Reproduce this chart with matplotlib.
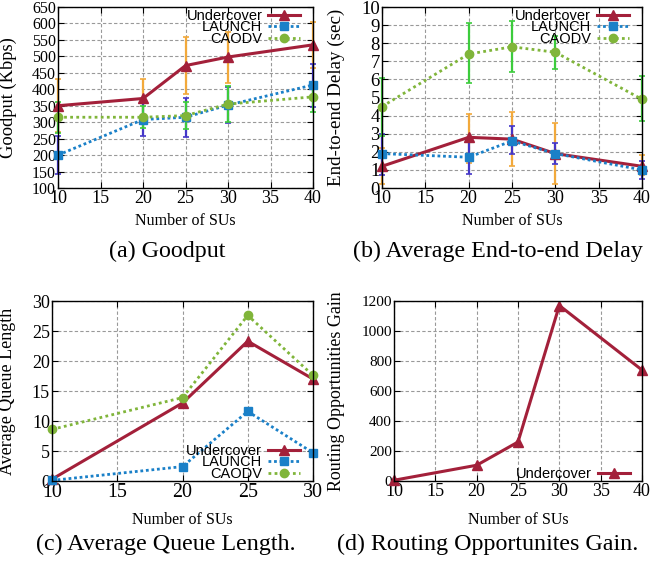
import matplotlib
matplotlib.use("Agg")
from matplotlib import pyplot as plt

plt.rcParams.update({
    "font.family": "Liberation Serif",
    "axes.linewidth": 1.0,
})

# data
sus = [10, 20, 25, 30, 40]
sus_queue = [10, 20, 25, 30]

goodput_undercover = [350, 372, 472, 498, 535]
goodput_undercover_lo = [270, 315, 385, 420, 465]
goodput_undercover_hi = [430, 432, 560, 575, 605]
goodput_launch = [200, 308, 315, 352, 413]
goodput_launch_lo = [143, 258, 255, 297, 345]
goodput_launch_hi = [257, 362, 372, 408, 478]
goodput_caodv = [315, 315, 320, 355, 377]
goodput_caodv_lo = [268, 283, 280, 300, 332]
goodput_caodv_hi = [360, 350, 362, 410, 420]

delay_undercover = [1.2, 2.8, 2.7, 1.9, 1.2]
delay_undercover_lo = [0.2, 1.4, 1.2, 0.2, 0.7]
delay_undercover_hi = [2.2, 4.1, 4.2, 3.6, 1.8]
delay_launch = [1.9, 1.7, 2.6, 1.9, 1.0]
delay_launch_lo = [0.7, 0.8, 1.9, 1.3, 0.5]
delay_launch_hi = [3.0, 2.6, 3.4, 2.5, 1.5]
delay_caodv = [4.5, 7.4, 7.8, 7.5, 4.9]
delay_caodv_lo = [2.9, 5.8, 6.4, 6.6, 3.7]
delay_caodv_hi = [6.1, 9.1, 9.2, 8.4, 6.2]

queue_undercover = [0.3, 13.0, 23.3, 17.0]
queue_launch = [0.1, 2.4, 11.6, 4.7]
queue_caodv = [8.6, 13.9, 27.6, 17.6]

gain_undercover = [5, 105, 260, 1170, 740]

captions = ["(a) Goodput", "(b) Average End-to-end Delay",
            "(c) Average Queue Length.", "(d) Routing Opportunites Gain."]

RED = "#a3203a"
BLUE = "#1a80c8"
GREEN = "#80b53a"
ERR_RED = "#f2a93b"
ERR_BLUE = "#4436c8"
ERR_GREEN = "#3ccc3c"

styles = {
    "Undercover": dict(color=RED, lw=2.2, ls="-", marker="^", ms=7),
    "LAUNCH": dict(color=BLUE, lw=2.0, ls=(0, (1, 1)), marker="s", ms=6),
    "CAODV": dict(color=GREEN, lw=2.0, ls=(0, (1, 1.2)), marker="o", ms=6),
}


def style_axes(ax, xticks, yticks, xsize, ysize):
    ax.set_xlim(xticks[0], xticks[-1])
    ax.set_ylim(yticks[0], yticks[-1])
    ax.set_xticks(xticks)
    ax.set_yticks(yticks)
    ax.grid(True, color="#999999", lw=0.8, ls=(0, (3, 2)))
    ax.set_axisbelow(True)
    ax.tick_params(axis="both", direction="in", length=4, width=0.8,
                   top=True, right=True)
    ax.tick_params(axis="x", labelsize=xsize, pad=1.5)
    ax.tick_params(axis="y", labelsize=ysize, pad=1.5)
    for s in ax.spines.values():
        s.set_zorder(5)


def draw(ax, x, series, errs=None):
    for name, y in series.items():
        st = styles[name]
        if errs is not None and name in errs:
            lo, hi, ec = errs[name]
            yerr = [[v - l for v, l in zip(y, lo)], [h - v for v, h in zip(y, hi)]]
            ax.errorbar(x, y, yerr=yerr, fmt="none", ecolor=ec, elinewidth=1.6,
                        capsize=2, capthick=1.2, zorder=2, clip_on=False)
        ax.plot(x, y, color=st["color"], lw=st["lw"], ls=st["ls"],
                marker=st["marker"], ms=st["ms"], mfc=st["color"], mec=st["color"],
                label=name, zorder=3, clip_on=False)


def legend(ax, loc, anchor):
    leg = ax.legend(loc=loc, bbox_to_anchor=anchor, frameon=False,
                    markerfirst=False, alignment="right",
                    prop={"family": "Liberation Sans", "size": 10.5},
                    labelspacing=-0.16, handlelength=2.2, handletextpad=0.4,
                    borderpad=0.0, borderaxespad=0.0)
    leg.set_zorder(6)


fig = plt.figure(figsize=(6.54, 5.61), dpi=100)
W, H = 654.0, 561.0


def add_axes(l, r, t, b):
    return fig.add_axes([l / W, 1 - b / H, (r - l) / W, (b - t) / H])


ax_a = add_axes(58, 313, 7, 188)
ax_b = add_axes(382, 642, 7, 188)
ax_c = add_axes(52, 313, 301, 481)
ax_d = add_axes(394, 642, 301, 481)

# (a) goodput
style_axes(ax_a, [10, 15, 20, 25, 30, 35, 40], list(range(100, 651, 50)), 13, 11.5)
draw(ax_a, sus,
     {"Undercover": goodput_undercover, "LAUNCH": goodput_launch, "CAODV": goodput_caodv},
     {"Undercover": (goodput_undercover_lo, goodput_undercover_hi, ERR_RED),
      "LAUNCH": (goodput_launch_lo, goodput_launch_hi, ERR_BLUE),
      "CAODV": (goodput_caodv_lo, goodput_caodv_hi, ERR_GREEN)})
ax_a.set_ylabel("Goodput (Kbps)", fontsize=13.3)
ax_a.yaxis.set_label_coords(-0.16, 0.5)
legend(ax_a, "upper right", (0.95, 0.99))

# (b) delay
style_axes(ax_b, [10, 15, 20, 25, 30, 35, 40], list(range(0, 11)), 13, 13.5)
draw(ax_b, sus,
     {"Undercover": delay_undercover, "LAUNCH": delay_launch, "CAODV": delay_caodv},
     {"Undercover": (delay_undercover_lo, delay_undercover_hi, ERR_RED),
      "LAUNCH": (delay_launch_lo, delay_launch_hi, ERR_BLUE),
      "CAODV": (delay_caodv_lo, delay_caodv_hi, ERR_GREEN)})
ax_b.set_ylabel("End-to-end Delay (sec)", fontsize=13.7)
ax_b.yaxis.set_label_coords(-0.142, 0.5)
legend(ax_b, "upper right", (0.95, 0.99))

# (c) queue length
style_axes(ax_c, [10, 15, 20, 25, 30], list(range(0, 31, 5)), 14.4, 13)
draw(ax_c, sus_queue,
     {"Undercover": queue_undercover, "LAUNCH": queue_launch, "CAODV": queue_caodv})
ax_c.set_ylabel("Average Queue Length", fontsize=13)
ax_c.yaxis.set_label_coords(-0.138, 0.5)
legend(ax_c, "lower right", (0.95, 0.0))

# (d) routing opportunities gain
style_axes(ax_d, [10, 15, 20, 25, 30, 35, 40], list(range(0, 1201, 200)), 13, 11)
draw(ax_d, sus, {"Undercover": gain_undercover})
ax_d.set_ylabel("Routing Opportunities Gain", fontsize=12.9)
ax_d.yaxis.set_label_coords(-0.198, 0.5)
legend(ax_d, "lower right", (0.95, 0.0))

for ax in (ax_a, ax_b):
    ax.set_xlabel("Number of SUs", fontsize=11.5)
    ax.xaxis.set_label_coords(0.5, -0.138)
for ax in (ax_c, ax_d):
    ax.set_xlabel("Number of SUs", fontsize=11.5)
    ax.xaxis.set_label_coords(0.5, -0.17)

fig.text(167 / W, 1 - 251 / H, captions[0], ha="center", va="center", fontsize=17.3)
fig.text(498 / W, 1 - 251 / H, captions[1], ha="center", va="center", fontsize=17.3)
fig.text(166 / W, 1 - 544 / H, captions[2], ha="center", va="center", fontsize=17.3)
fig.text(488 / W, 1 - 544 / H, captions[3], ha="center", va="center", fontsize=17.3)

fig.savefig("out.png", dpi=100)
